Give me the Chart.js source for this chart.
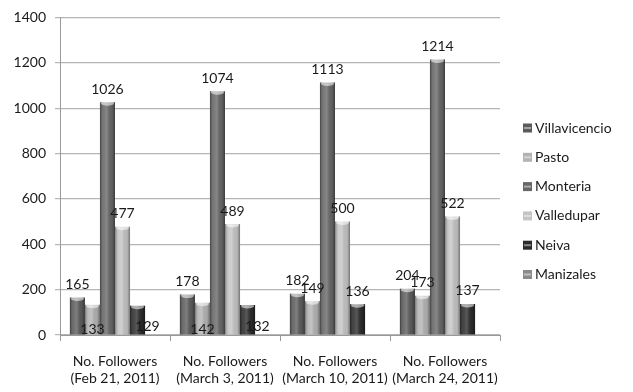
<!DOCTYPE html>
<html>
<head>
<meta charset="utf-8">
<script src="https://cdn.jsdelivr.net/npm/chart.js@4/dist/chart.umd.min.js"></script>
<style>
  html, body { margin: 0; padding: 0; background: #fff; }
  #wrap { width: 633px; height: 392px; }
</style>
</head>
<body>
<div id="wrap"><canvas id="c" width="633" height="392"></canvas></div>
<script>
// Follower counts per city on four dates
const categories = [
  ['No. Followers', '(Feb 21, 2011)'],
  ['No. Followers', '(March 3, 2011)'],
  ['No. Followers', '(March 10, 2011)'],
  ['No. Followers', '(March 24, 2011)']
];
const seriesNames = ['Villavicencio', 'Pasto', 'Monteria', 'Valledupar', 'Neiva', 'Manizales'];
const villavicencio = [165, 178, 182, 204];
const pasto = [133, 142, 149, 173];
const monteria = [1026, 1074, 1113, 1214];
const valledupar = [477, 489, 500, 522];
const neiva = [129, 132, 136, 137];
const manizales = [null, null, null, null];
const yTicks = [0, 200, 400, 600, 800, 1000, 1200, 1400];

const seriesValues = [villavicencio, pasto, monteria, valledupar, neiva, manizales];
const seriesColors = ['#5b5b5b', '#b3b3b3', '#666666', '#c4c4c4', '#2b2b2b', '#8a8a8a'];

const FONT = 'Lato, "Open Sans", sans-serif';

// Where a value label sits: above the bar top by default, 'base' down at
// the foot of the bar, 'right' beside the lower part of the bar.
const labelPlacement = {
  Pasto: ['base', 'base', 'top', 'top'],
  Neiva: ['right', 'right', 'top', 'top']
};

// Cylinder shading, top caps, value labels and the legend
const shadePlugin = {
  id: 'shade',
  afterDatasetsDraw(chart) {
    const ctx = chart.ctx;
    chart.data.datasets.forEach((ds, di) => {
      const meta = chart.getDatasetMeta(di);
      meta.data.forEach((bar, i) => {
        if (ds.data[i] == null) return;
        const { x, y, base, width } = bar.getProps(['x', 'y', 'base', 'width'], true);
        const l = x - width / 2, r = x + width / 2;
        const g = ctx.createLinearGradient(l, 0, r, 0);
        g.addColorStop(0, 'rgba(0,0,0,0.35)');
        g.addColorStop(0.25, 'rgba(255,255,255,0.12)');
        g.addColorStop(0.45, 'rgba(255,255,255,0.22)');
        g.addColorStop(0.8, 'rgba(0,0,0,0.05)');
        g.addColorStop(1, 'rgba(0,0,0,0.4)');
        ctx.save();
        ctx.fillStyle = g;
        ctx.fillRect(l, y, width, base - y);
        ctx.beginPath();
        ctx.ellipse(x, y + 1, width / 2 - 1, 2.5, 0, 0, Math.PI * 2);
        ctx.fillStyle = 'rgba(255,255,255,0.55)';
        ctx.fill();
        ctx.restore();
      });
    });
  },
  afterDraw(chart) {
    const ctx = chart.ctx;
    ctx.save();
    ctx.font = '14px ' + FONT;
    ctx.fillStyle = '#1a1a1a';
    ctx.textAlign = 'center';
    ctx.textBaseline = 'bottom';
    chart.data.datasets.forEach((ds, di) => {
      const meta = chart.getDatasetMeta(di);
      const place = labelPlacement[ds.label] || [];
      meta.data.forEach((bar, i) => {
        const v = ds.data[i];
        if (v == null) return;
        const p = place[i] || 'top';
        let tx = bar.x, ty = bar.y - 6;
        if (p === 'base') { ty = bar.base + 2; }
        else if (p === 'right') { tx = bar.x + 10; ty = bar.base - 1; }
        ctx.fillText(String(v), tx, ty);
      });
    });
    ctx.restore();

    ctx.save();
    ctx.font = '14px ' + FONT;
    ctx.textBaseline = 'middle';
    ctx.textAlign = 'left';
    const lx = 523, ly0 = 128, step = 29.3;
    chart.data.datasets.forEach((ds, di) => {
      const yy = ly0 + di * step;
      ctx.fillStyle = ds.backgroundColor;
      ctx.fillRect(lx, yy - 4.5, 9, 9);
      ctx.fillStyle = 'rgba(255,255,255,0.45)';
      ctx.fillRect(lx + 1, yy - 1, 7, 2);
      ctx.fillStyle = '#1a1a1a';
      ctx.fillText(ds.label, lx + 12, yy);
    });
    ctx.restore();
  }
};

new Chart(document.getElementById('c'), {
  type: 'bar',
  data: {
    labels: categories,
    datasets: seriesNames.map((name, k) => ({
      label: name,
      data: seriesValues[k],
      backgroundColor: seriesColors[k],
      borderWidth: 0,
      categoryPercentage: 0.82,
      barPercentage: 1.0
    }))
  },
  options: {
    responsive: false,
    animation: false,
    layout: { padding: { top: 14, right: 133, left: 0, bottom: 0 } },
    plugins: { legend: { display: false }, tooltip: { enabled: false } },
    scales: {
      x: {
        grid: { display: true, drawOnChartArea: false, offset: true, tickLength: 6, color: '#999' },
        border: { display: true, color: '#999' },
        ticks: { color: '#1a1a1a', font: { family: FONT, size: 14 }, padding: 12, maxRotation: 0 },
        afterFit(scale) { scale.height = 57; }
      },
      y: {
        min: 0, max: 1400,
        afterBuildTicks(scale) { scale.ticks = yTicks.map(v => ({ value: v })); },
        grid: { color: '#b5b5b5', lineWidth: 1.2, tickLength: 5 },
        border: { display: true, color: '#999' },
        ticks: { color: '#1a1a1a', font: { family: FONT, size: 14 }, padding: 9, callback: v => String(v) },
        afterFit(scale) { scale.width = 60; }
      }
    }
  },
  plugins: [shadePlugin]
});
</script>
</body>
</html>
